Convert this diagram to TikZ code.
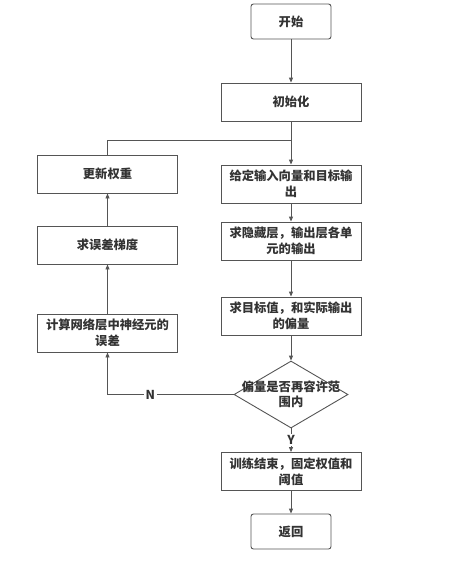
\documentclass[tikz,border=0pt]{standalone}
\usepackage{fontspec}
\usepackage{xcolor}
\usetikzlibrary{shapes.geometric,arrows.meta}
\newfontfamily\cjk{Noto Sans CJK SC}
\definecolor{linegray}{HTML}{555555}
\definecolor{textgray}{HTML}{333333}

\tikzset{
  box/.style={draw=linegray, line width=0.9pt, minimum width=140pt, minimum height=38pt, inner sep=1pt, align=center, font=\cjk\bfseries\fontsize{12.3}{16}\selectfont, text=textgray},
  term/.style={box, minimum width=80pt, minimum height=35pt, rounded corners=2.5pt},
  decision/.style={draw=linegray, line width=0.9pt, diamond, minimum width=114pt, minimum height=67pt, inner sep=0pt},
  txt/.style={align=center, font=\cjk\bfseries\fontsize{12.3}{15}\selectfont, text=textgray, inner sep=0pt},
  flow/.style={draw=linegray, line width=0.9pt, -{Triangle[length=5pt,width=4pt]}}
}

\begin{document}
\begin{tikzpicture}[x=1pt,y=-1pt]
\useasboundingbox (0,0) rectangle (476,562);
\node [term] (start) at (291,21.5) {开始};
\node [box] (init) at (291,102) {初始化};
\node [box] (input) at (291,184) {给定输入向量和目标输\\出};
\node [box] (hidden) at (291,241) {求隐藏层，输出层各单\\元的输出};
\node [box] (target) at (291,316) {求目标值，和实际输出\\的偏量};
\node [decision] (check) at (291,394.5) {};
\node [txt] at (check) {偏量是否再容许范\\围内};
\node [box] (train) at (291,471.5) {训练结束，固定权值和\\阈值};
\node [term] (return) at (291,531.5) {返回};
\node [box] (update) at (107.5,174) {更新权重};
\node [box] (grad) at (107.5,245) {求误差梯度};
\node [box] (calc) at (107.5,333) {计算网络层中神经元的\\误差};
\coordinate (join) at (291,140);
\draw [flow] (start) -- (init);
\draw [flow] (init) -- (input);
\draw [draw=linegray, line width=0.9pt] (update.north) |- (join);
\draw [flow] (input) -- (hidden);
\draw [flow] (hidden) -- (target);
\draw [flow] (target) -- (check);
\draw [flow] (check) -- node [txt, fill=white, inner sep=1.5pt] {Y} (train);
\draw [flow] (train) -- (return);
\draw [flow] (check.west) -| node [txt, fill=white, inner sep=1.5pt, pos=0.33] {N} (calc.south);
\draw [flow] (calc) -- (grad);
\draw [flow] (grad) -- (update);
\end{tikzpicture}
\end{document}
